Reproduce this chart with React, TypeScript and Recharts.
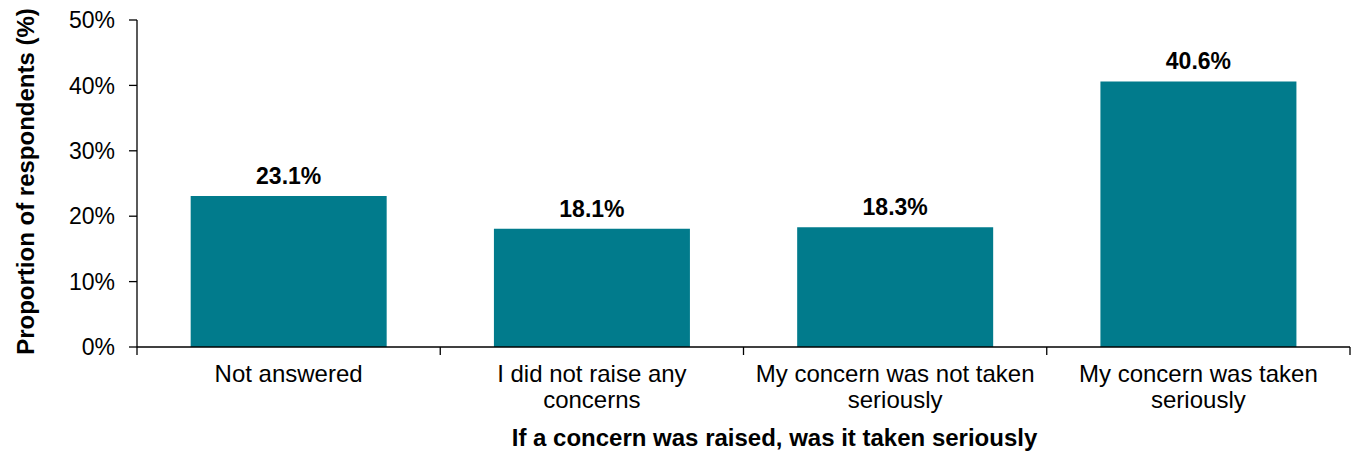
import React from "react";
import { BarChart, Bar, XAxis, YAxis, LabelList, Label } from "recharts";

const CATEGORIES = [
  "Not answered",
  "I did not raise any concerns",
  "My concern was not taken seriously",
  "My concern was  taken seriously",
];
const TICK_LINES = [
  ["Not answered"],
  ["I did not raise any", "concerns"],
  ["My concern was not taken", "seriously"],
  ["My concern was  taken", "seriously"],
];
const VALUES = [23.1, 18.1, 18.3, 40.6];
const Y_TICKS = [0, 10, 20, 30, 40, 50];
const Y_TITLE = "Proportion of respondents (%)";
const X_TITLE = "If a concern was raised, was it taken seriously";

const data = CATEGORIES.map((c, i) => ({ name: c, value: VALUES[i] }));

const FONT = '"Liberation Sans", Arial, Helvetica, sans-serif';
const W = 1354;
const H = 453;
const MARGIN = { top: 20, right: 4, left: 0, bottom: 0 };
const Y_AXIS_W = 137;
const PLOT_W = W - MARGIN.left - MARGIN.right - Y_AXIS_W;
const BAR_COLOR = "#017B8C";
const TICK = 8;

const CategoryTick = (props: any) => {
  const { x, y, index } = props;
  const lines = TICK_LINES[index] || [];
  const band = PLOT_W / CATEGORIES.length;
  return (
    <g>
      <line x1={x - band / 2} x2={x - band / 2} y1={y - TICK} y2={y} stroke="#000" strokeWidth={1.3} />
      {index === CATEGORIES.length - 1 && (
        <line x1={x + band / 2} x2={x + band / 2} y1={y - TICK} y2={y} stroke="#000" strokeWidth={1.3} />
      )}
      <text x={x} y={y} textAnchor="middle" fontSize={24} fill="#000" fontFamily={FONT}>
        {lines.map((l, i) => (
          <tspan key={i} x={x} dy={i === 0 ? 27 : 26}>
            {l}
          </tspan>
        ))}
      </text>
    </g>
  );
};

const YTitle = (props: any) => {
  const { viewBox } = props;
  const cx = viewBox.x + 34;
  const cy = viewBox.y + viewBox.height / 2 - 2;
  return (
    <text
      x={cx}
      y={cy}
      transform={`rotate(-90, ${cx}, ${cy})`}
      textAnchor="middle"
      fontSize={24}
      fontWeight="bold"
      fontFamily={FONT}
      fill="#000"
    >
      {Y_TITLE}
    </text>
  );
};

const XTitle = (props: any) => {
  const { viewBox } = props;
  const cx = viewBox.x + viewBox.width / 2 + 31;
  const cy = viewBox.y + 99;
  return (
    <text x={cx} y={cy} textAnchor="middle" fontSize={24} fontWeight="bold" fontFamily={FONT} fill="#000">
      {X_TITLE}
    </text>
  );
};

export default function App() {
  return (
    <div style={{ position: "absolute", left: 0, top: 0, width: W, height: H, background: "#fff" }}>
      <BarChart width={W} height={H} data={data} margin={MARGIN} barCategoryGap="17.7%">
        <XAxis
          dataKey="name"
          height={H - MARGIN.top - 327}
          tickLine={false}
          tickSize={TICK}
          tickMargin={0}
          interval={0}
          axisLine={{ stroke: "#000", strokeWidth: 1.3 }}
          tick={<CategoryTick />}
        >
          <Label content={<XTitle />} />
        </XAxis>
        <YAxis
          width={Y_AXIS_W}
          domain={[0, 50]}
          ticks={Y_TICKS}
          tickFormatter={(v: number) => `${v}%`}
          tickSize={TICK}
          tickMargin={14}
          axisLine={{ stroke: "#000", strokeWidth: 1.3 }}
          tickLine={{ stroke: "#000", strokeWidth: 1.3 }}
          tick={{ fontSize: 23, fill: "#000", fontFamily: FONT }}
        >
          <Label content={<YTitle />} />
        </YAxis>
        <Bar dataKey="value" fill={BAR_COLOR} isAnimationActive={false}>
          <LabelList
            dataKey="value"
            position="top"
            offset={12}
            formatter={(v: any) => `${Number(v).toFixed(1)}%`}
            style={{ fontSize: 23, fontWeight: "bold", fill: "#000", fontFamily: FONT }}
          />
        </Bar>
      </BarChart>
    </div>
  );
}
